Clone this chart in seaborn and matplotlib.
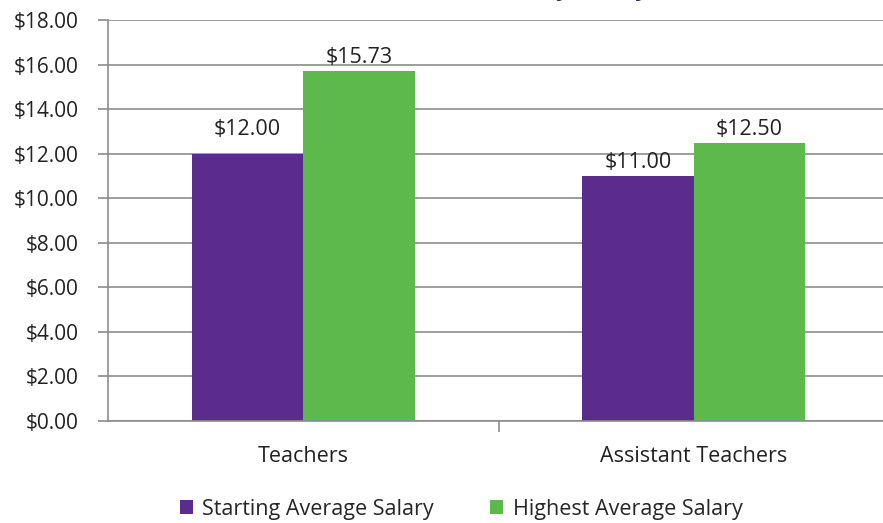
import numpy as np
import pandas as pd
import matplotlib
matplotlib.use("Agg")
import matplotlib.pyplot as plt
import seaborn as sns

# data
categories = ["Teachers", "Assistant Teachers"]
series = ["Starting Average Salary", "Highest Average Salary"]
starting = [12.00, 11.00]
highest = [15.73, 12.50]
y_ticks = [0, 2, 4, 6, 8, 10, 12, 14, 16, 18]
title = "Teacher Hourly Salary"

colors = ["#5B2C8C", "#5DB94B"]

df = pd.DataFrame({
    "category": categories * 2,
    "series": [series[0]] * 2 + [series[1]] * 2,
    "salary": starting + highest,
})

sns.set_theme(style="white")
plt.rcParams["font.family"] = ["Open Sans", "DejaVu Sans"]

fig = plt.figure(figsize=(8.83, 5.23), dpi=100)
ax = fig.add_axes([108 / 883, 1 - 421 / 523, 781 / 883, 401 / 523])

sns.barplot(data=df, x="category", y="salary", hue="series", palette=colors,
            width=0.57, saturation=1, ax=ax, legend=True)
for p in ax.patches:
    p.set_edgecolor("none")

for i, cont in enumerate(ax.containers):
    texts = ax.bar_label(cont, labels=["${:.2f}".format(v) for v in cont.datavalues],
                         padding=2, fontsize=15.5, color="#222222")
    if i == 0:
        # excel pushed this one up a bit
        texts[0].xyann = (0, 10)

ax.set_xlim(-0.5, 1.5)
ax.set_ylim(0, 18)
ax.set_yticks(y_ticks)
ax.set_yticklabels(["${:.2f}".format(v) for v in y_ticks], fontsize=15, color="#222222")
ax.yaxis.grid(True, color="#8c8c8c", linewidth=1.2)
ax.set_axisbelow(True)
ax.tick_params(axis="y", left=True, length=7, width=1.2, color="#8c8c8c", pad=14)
ax.tick_params(axis="x", bottom=False, labelsize=15.5, labelcolor="#222222", pad=12)
ax.set_xticks([0.5], minor=True)
ax.tick_params(axis="x", which="minor", bottom=True, length=8, width=1.2, color="#8c8c8c")
ax.set_xlabel("")
ax.set_ylabel("")
for side in ["top", "right"]:
    ax.spines[side].set_visible(False)
for side in ["left", "bottom"]:
    ax.spines[side].set_color("#8c8c8c")
    ax.spines[side].set_linewidth(1.2)

ax.legend(loc="center", bbox_to_anchor=(461 / 883, 14 / 523), bbox_transform=fig.transFigure,
          ncol=2, frameon=False, fontsize=15.5, handlelength=0.6, handleheight=0.6,
          handletextpad=0.45, columnspacing=2.6)

# title mostly cut off by the top edge in the reference
fig.text(649 / 883, 1 + 5 / 523, title, ha="right", va="baseline", fontsize=17,
         fontweight="bold", color="#1F2A4F")

fig.savefig("out.png", dpi=100)
